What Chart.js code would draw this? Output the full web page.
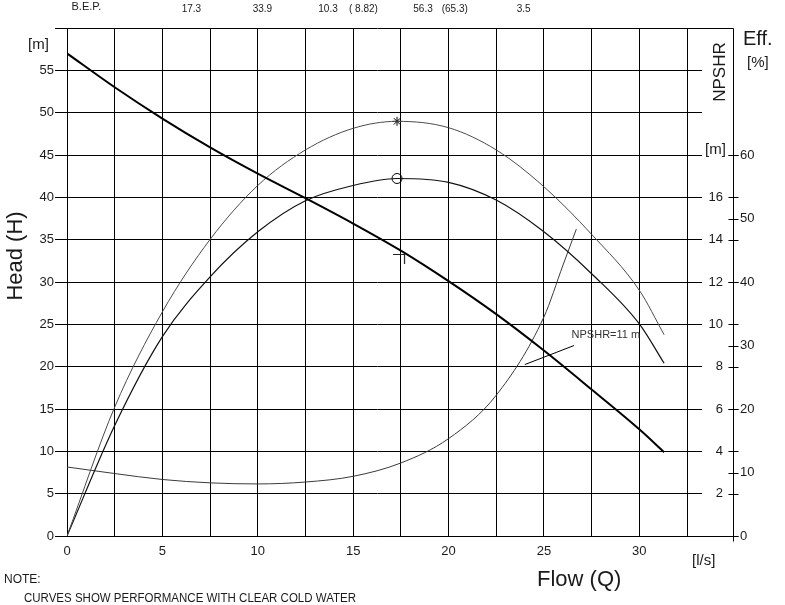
<!DOCTYPE html>
<html>
<head>
<meta charset="utf-8">
<script src="https://cdn.jsdelivr.net/npm/chart.js@4.4.0/dist/chart.umd.min.js"></script>
<style>
  html, body { margin: 0; padding: 0; background: #fff; }
  #wrap { width: 785px; height: 605px; position: relative; }
</style>
</head>
<body>
<div id="wrap"><canvas id="pumpChart"></canvas></div>
<script>
// --- DATA ---

// head curve, H [m] against Q [l/s]
const flowHead   = [0, 2.5, 5, 7.5, 10, 12.5, 15, 17.5, 20, 22.5, 25, 27.5, 30, 31.3];
const headValues = [57.0, 53.0, 49.3, 45.9, 42.8, 39.9, 36.9, 33.7, 30.1, 26.2, 21.9, 17.3, 12.6, 9.9];

// efficiency curves [%]
const flowEff     = [0, 2.5, 5, 7.5, 10, 12.5, 15, 17.3, 20, 22.5, 25, 27.5, 30, 31.3];
const effPump     = [0, 20.3, 35.3, 46.7, 55.2, 60.8, 64.2, 65.3, 64.3, 60.8, 55.0, 47.5, 38.7, 31.7];
const effOverall  = [0, 17.4, 31.4, 40.8, 47.9, 52.8, 55.2, 56.3, 55.7, 52.9, 47.9, 41.3, 33.4, 27.2];

// NPSHR [m]
const flowNpsh   = [0, 2.5, 5, 7.5, 10, 12.5, 15, 17.5, 20, 22.5, 25, 26, 26.7];
const npshValues = [3.26, 2.95, 2.67, 2.51, 2.46, 2.55, 2.82, 3.45, 4.6, 6.65, 10.35, 12.8, 14.5];

// best efficiency point
const bepFlow = 17.3, bepHead = 33.9, bepPower = 10.3, bepPowerShaft = 8.82;
const bepEffOverall = 56.3, bepEffPump = 65.3, bepNpsh = 3.5;

// tick labels
const flowTickLabels = [0, 5, 10, 15, 20, 25, 30];
const headTickLabels = [0, 5, 10, 15, 20, 25, 30, 35, 40, 45, 50, 55];
const npshTickLabels = [2, 4, 6, 8, 10, 12, 14, 16];
const effTickLabels  = [0, 10, 20, 30, 40, 50, 60];

// "NPSHR=11 m" note, in flow / NPSHR units
const npshNoteText = "NPSHR=11 m";
const npshNoteLine = [[24.0, 8.1], [26.58, 9.0]];
const npshNoteAt   = [26.45, 9.52];

// --- HELPERS ---

const FONT = "'Liberation Sans', Arial, sans-serif";
const toPoints = (xs, ys) => xs.map((q, i) => ({ x: q, y: ys[i] }));

// the little "T" marker sitting on the head curve at the BEP
function makeTMarker() {
  const c = document.createElement("canvas");
  c.width = 40; c.height = 40;
  const g = c.getContext("2d");
  g.strokeStyle = "#222";
  g.lineWidth = 1.2;
  g.beginPath();
  g.moveTo(16, 25.5); g.lineTo(28, 25.5);
  g.moveTo(27.5, 25.5); g.lineTo(27.5, 35);
  g.stroke();
  return c;
}

function text(ctx, str, x, y, size, align, maxW) {
  ctx.font = size + "px " + FONT;
  ctx.textAlign = align || "left";
  if (maxW) ctx.fillText(str, x, y, maxW); else ctx.fillText(str, x, y);
}

// outer axis line, frame pieces, crossing ticks and all the loose labels
const decorPlugin = {
  id: "decor",
  afterDraw(chart) {
    const { ctx, chartArea, scales } = chart;
    const xS = scales.x, yN = scales.yNpsh, yE = scales.yEff;
    const axisX = Math.round(yE.left) + 10.5;
    const top = Math.round(chartArea.top) + 0.5;
    const bot = Math.round(chartArea.bottom) + 0.5;

    ctx.save();
    ctx.strokeStyle = "#000";
    ctx.lineWidth = 1;
    ctx.beginPath();
    ctx.moveTo(axisX, top); ctx.lineTo(axisX, bot + 5);
    ctx.moveTo(chartArea.right, top); ctx.lineTo(axisX, top);
    ctx.moveTo(chartArea.right, bot); ctx.lineTo(axisX + 5, bot);
    effTickLabels.forEach(v => {
      const py = Math.round(yE.getPixelForValue(v)) + 0.5;
      ctx.moveTo(axisX - 5, py); ctx.lineTo(axisX + 5, py);
    });
    npshTickLabels.concat([18]).forEach(v => {
      const py = Math.round(yN.getPixelForValue(v)) + 0.5;
      ctx.moveTo(axisX - 5, py); ctx.lineTo(axisX + 5, py);
    });
    ctx.stroke();

    // NPSHR note with its leader
    ctx.beginPath();
    ctx.moveTo(xS.getPixelForValue(npshNoteLine[0][0]), yN.getPixelForValue(npshNoteLine[0][1]));
    ctx.lineTo(xS.getPixelForValue(npshNoteLine[1][0]), yN.getPixelForValue(npshNoteLine[1][1]));
    ctx.stroke();
    ctx.fillStyle = "#333";
    ctx.textBaseline = "middle";
    text(ctx, npshNoteText, xS.getPixelForValue(npshNoteAt[0]), yN.getPixelForValue(npshNoteAt[1]), 11, "left");

    ctx.fillStyle = "#1a1a1a";
    // unit labels
    text(ctx, "[m]", 28, 45, 15);
    text(ctx, "[m]", 705, Math.round(yN.getPixelForValue(18)) - 5, 15);
    text(ctx, "Eff.", 743, 39, 20);
    text(ctx, "[%]", 747, 63, 15);
    text(ctx, "[l/s]", 692, 561, 15);
    text(ctx, "Flow (Q)", 537, 580, 22);
    text(ctx, "NOTE:", 4, 580, 12, "left", 38);
    text(ctx, "CURVES SHOW PERFORMANCE WITH CLEAR COLD WATER", 24, 599, 12, "left", 332);

    // rotated axis names
    ctx.save();
    ctx.translate(15.5, 256);
    ctx.rotate(-Math.PI / 2);
    text(ctx, "Head (H)", 0, 0, 22, "center");
    ctx.restore();
    ctx.save();
    ctx.translate(720, 72);
    ctx.rotate(-Math.PI / 2);
    text(ctx, "NPSHR", 0, 0, 17, "center");
    ctx.restore();

    // B.E.P. row along the top
    ctx.textBaseline = "alphabetic";
    text(ctx, "B.E.P.", 71.5, 9.5, 11);
    const bepText = [String(bepFlow), String(bepHead), String(bepPower), "( " + bepPowerShaft + ")",
                     String(bepEffOverall), "(" + bepEffPump + ")", String(bepNpsh)];
    const bepX = [181.7, 252.7, 318.3, 349, 413.3, 441.7, 516.7];
    bepText.forEach((s, i) => text(ctx, s, bepX[i], 11.7, 10));
    ctx.restore();
  }
};

// --- CHART ---

const lineDefaults = { showLine: true, pointRadius: 0, fill: false, cubicInterpolationMode: "monotone" };

new Chart(document.getElementById("pumpChart"), {
  type: "scatter",
  data: {
    datasets: [
      { ...lineDefaults, label: "H", yAxisID: "yHead", data: toPoints(flowHead, headValues),
        borderColor: "#000", borderWidth: 2 },
      { ...lineDefaults, label: "Eff pump", yAxisID: "yEff", data: toPoints(flowEff, effPump),
        borderColor: "#4a4a4a", borderWidth: 1 },
      { ...lineDefaults, label: "Eff overall", yAxisID: "yEff", data: toPoints(flowEff, effOverall),
        borderColor: "#111", borderWidth: 1.2 },
      { ...lineDefaults, label: "NPSHR", yAxisID: "yNpsh", data: toPoints(flowNpsh, npshValues),
        borderColor: "#3a3a3a", borderWidth: 1 },
      { label: "BEP H", yAxisID: "yHead", data: [{ x: bepFlow, y: bepHead }],
        pointStyle: makeTMarker(), pointRadius: 10, showLine: false },
      { label: "BEP pump", yAxisID: "yEff", data: [{ x: bepFlow, y: bepEffPump }],
        pointStyle: "star", pointRadius: 4.5, borderColor: "#000", borderWidth: 1, showLine: false },
      { label: "BEP overall", yAxisID: "yEff", data: [{ x: bepFlow, y: bepEffOverall }],
        pointStyle: "circle", pointRadius: 5, backgroundColor: "rgba(0,0,0,0)",
        borderColor: "#000", borderWidth: 1, showLine: false }
    ]
  },
  options: {
    responsive: true,
    maintainAspectRatio: false,
    animation: false,
    layout: { padding: { top: 28, left: 0, right: 0, bottom: 0 } },
    plugins: { legend: { display: false }, tooltip: { enabled: false } },
    scales: {
      x: {
        type: "linear", min: 0, max: 32.5,
        grid: { color: "#000", lineWidth: 1, drawTicks: false },
        border: { display: true, color: "#000", width: 1 },
        ticks: {
          stepSize: 2.5, autoSkip: false, maxRotation: 0, padding: 8,
          color: "#1a1a1a", font: { family: FONT, size: 13 },
          callback: v => flowTickLabels.includes(v) ? String(v) : ""
        },
        afterFit: s => { s.height = 69; }
      },
      yHead: {
        type: "linear", position: "left", min: 0, max: 60,
        grid: { color: "#000", lineWidth: 1, tickLength: 12 },
        border: { display: true, color: "#000", width: 1 },
        ticks: {
          stepSize: 5, autoSkip: false, padding: 1,
          color: "#1a1a1a", font: { family: FONT, size: 13 },
          callback: v => headTickLabels.includes(v) ? String(v) : ""
        },
        afterFit: s => { s.width = 67; }
      },
      yNpsh: {
        type: "linear", position: "right", weight: 1, min: 0, max: 24,
        grid: { color: "#000", lineWidth: 1, drawOnChartArea: false, tickLength: 15 },
        border: { display: false },
        ticks: {
          stepSize: 2, autoSkip: false, padding: 5, crossAlign: "far",
          color: "#1a1a1a", font: { family: FONT, size: 13 },
          callback: v => npshTickLabels.includes(v) ? String(v) : ""
        },
        afterFit: s => { s.width = 36; }
      },
      yEff: {
        type: "linear", position: "right", weight: 2, min: 0, max: 80,
        grid: { display: false, drawTicks: false },
        border: { display: false },
        ticks: {
          stepSize: 10, autoSkip: false, padding: 17,
          color: "#1a1a1a", font: { family: FONT, size: 13 },
          callback: v => effTickLabels.includes(v) ? String(v) : ""
        },
        afterFit: s => { s.width = 62; }
      }
    }
  },
  plugins: [decorPlugin]
});
</script>
</body>
</html>
